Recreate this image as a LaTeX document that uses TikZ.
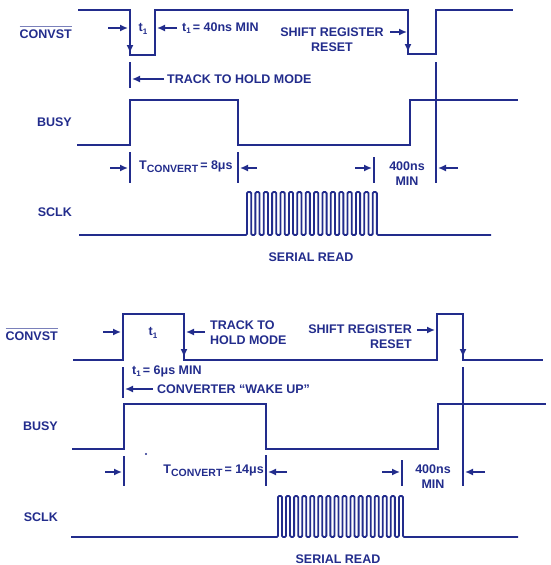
\documentclass[tikz,border=0pt]{standalone}
\usepackage{fontspec}
\setmainfont{Liberation Sans}
\usetikzlibrary{arrows.meta}
\definecolor{ink}{RGB}{34,44,140}
\tikzset{
  sig/.style={draw=ink, line width=1.8pt, line join=miter},
  guide/.style={draw=ink, line width=1.5pt},
  arr/.style={draw=ink, line width=1.5pt, -{Latex[length=8pt,width=7pt]}},
  lbl/.style={text=ink, inner sep=0pt, font=\fontsize{12.5}{15}\selectfont\bfseries},
  ovl/.style={draw=ink!60, line width=0.7pt}
}
\newcommand{\tconv}[1]{T\raisebox{-3pt}{\fontsize{10.5}{11}\selectfont CONVERT}\,= #1}
\begin{document}
\begin{tikzpicture}[x=1pt,y=-1pt]
\useasboundingbox (0,0) rectangle (551,565);

%%%%%%%%%%%%%%%% TOP DIAGRAM %%%%%%%%%%%%%%%%
\node[lbl, anchor=east] (cv1) at (72,34) {CONVST};
\draw[ovl] ([yshift=3.5pt]cv1.north west) -- ([yshift=3.5pt]cv1.north east);
\node[lbl, anchor=east] (bz1) at (72,122) {BUSY};
\node[lbl, anchor=east] (sc1) at (72,212) {SCLK};

% CONVST waveform
\draw[sig] (78,10) -- (130,10) -- (130,55) -- (155,55) -- (155,10) -- (408,10)
  -- (408,54) -- (436,54) -- (436,10) -- (513,10);
\draw[arr] (130,36) -- (130,53);
\draw[arr] (408,36) -- (408,52);
% t1
\node[lbl] (t1a) at (143,29) {t\raisebox{-2.5pt}{\fontsize{8}{9}\selectfont 1}};
\coordinate (t1aL) at (108,28); \coordinate (t1aLe) at (128,28);
\coordinate (t1aR) at (177,28); \coordinate (t1aRe) at (157,28);
\draw[arr] (t1aL) -- (t1aLe);
\draw[arr] (t1aR) -- (t1aRe);
\node[lbl, anchor=west] (t1av) at (182,28) {t\raisebox{-2.5pt}{\fontsize{8}{9}\selectfont 1}\,= 40ns MIN};
% shift register reset
\node[lbl, align=center] (sr1) at (332,40) {SHIFT REGISTER\\RESET};
\coordinate (sr1a) at (390,32); \coordinate (sr1b) at (407,32);
\draw[arr] (sr1a) -- (sr1b);
% track to hold
\draw[guide] (130,62) -- (130,88);
\node[lbl, anchor=west] (th1) at (167,79) {TRACK TO HOLD MODE};
\coordinate (th1a) at (132,79);
\draw[arr] (th1.west) ++(-3,0) -- (th1a);

% BUSY waveform
\draw[sig] (77,145) -- (130,145) -- (130,100) -- (238,100) -- (238,145) -- (410,145)
  -- (410,100) -- (518,100);
\draw[guide] (436,62) -- (436,183);
% TCONVERT
\draw[guide] (130,152) -- (130,183);
\draw[guide] (238,152) -- (238,183);
\coordinate (tc1a) at (110,168); \coordinate (tc1b) at (128,168);
\coordinate (tc1c) at (257,168); \coordinate (tc1d) at (240,168);
\draw[arr] (tc1a) -- (tc1b);
\draw[arr] (tc1c) -- (tc1d);
\node[lbl, anchor=west] (tc1) at (139,167) {\tconv{8μs}};
% 400ns
\draw[guide] (374,157) -- (374,183);
\coordinate (n1a) at (355,168); \coordinate (n1b) at (372,168);
\coordinate (n1c) at (458,168); \coordinate (n1d) at (438,168);
\draw[arr] (n1a) -- (n1b);
\draw[arr] (n1c) -- (n1d);
\node[lbl, align=center] (n1) at (407,174) {400ns\\MIN};

% SCLK waveform
\draw[sig, rounded corners=1.2pt] (79,235) -- (247,235)
  \foreach \k in {1,...,16} { -- ++(0,-43) -- ++(4.19,0) -- ++(0,43) -- ++(4.19,0) }
  -- (491,235);
\node[lbl] (rd1) at (311,257) {SERIAL READ};

%%%%%%%%%%%%%%%% BOTTOM DIAGRAM %%%%%%%%%%%%%%%%
\node[lbl, anchor=east] (cv2) at (58,336) {CONVST};
\draw[ovl] ([yshift=3.5pt]cv2.north west) -- ([yshift=3.5pt]cv2.north east);
\node[lbl, anchor=east] (bz2) at (58,426) {BUSY};
\node[lbl, anchor=east] (sc2) at (58,517) {SCLK};

% CONVST waveform
\draw[sig] (73,360) -- (123,360) -- (123,314) -- (184,314) -- (184,360) -- (437,360)
  -- (437,314) -- (463,314) -- (463,360) -- (543,360);
\draw[arr] (184,340) -- (184,357);
\draw[arr] (463,340) -- (463,357);
% t1
\node[lbl] (t1b) at (153,333) {t\raisebox{-2.5pt}{\fontsize{8}{9}\selectfont 1}};
\coordinate (t1bL) at (103,332); \coordinate (t1bLe) at (121,332);
\coordinate (t1bR) at (205,332); \coordinate (t1bRe) at (186,332);
\draw[arr] (t1bL) -- (t1bLe);
\draw[arr] (t1bR) -- (t1bRe);
\node[lbl, anchor=west, align=left] (th2) at (210,333) {TRACK TO\\HOLD MODE};
% shift register reset
\node[lbl, anchor=east, align=right] (sr2) at (412,337) {SHIFT REGISTER\\RESET};
\coordinate (sr2a) at (417,330); \coordinate (sr2b) at (435,330);
\draw[arr] (sr2a) -- (sr2b);
% wake up
\draw[guide] (123,367) -- (123,398);
\node[lbl, anchor=west] (t1bv) at (132,371) {t\raisebox{-2.5pt}{\fontsize{8}{9}\selectfont 1}\,= 6μs MIN};
\node[lbl, anchor=west] (wk) at (157,389) {CONVERTER “WAKE UP”};
\coordinate (wka) at (125,389);
\draw[arr] (wk.west) ++(-4,0) -- (wka);

% BUSY waveform
\draw[sig] (72,449) -- (124,449) -- (124,404) -- (266,404) -- (266,449) -- (438,449)
  -- (438,404) -- (546,404);
\draw[guide] (463,367) -- (463,486);
\fill[ink] (146,454) circle (1.1pt);
% TCONVERT
\draw[guide] (124,456) -- (124,486);
\draw[guide] (266,455) -- (266,486);
\coordinate (tc2a) at (105,472); \coordinate (tc2b) at (122,472);
\coordinate (tc2c) at (287,472); \coordinate (tc2d) at (268,472);
\draw[arr] (tc2a) -- (tc2b);
\draw[arr] (tc2c) -- (tc2d);
\node[lbl, anchor=east] (tc2) at (264,471) {\tconv{14μs}};
% 400ns
\draw[guide] (402,460) -- (402,486);
\coordinate (n2a) at (382,472); \coordinate (n2b) at (400,472);
\coordinate (n2c) at (485,472); \coordinate (n2d) at (465,472);
\draw[arr] (n2a) -- (n2b);
\draw[arr] (n2c) -- (n2d);
\node[lbl, align=center] (n2) at (433,477) {400ns\\MIN};

% SCLK waveform
\draw[sig, rounded corners=1.2pt] (71,537) -- (278,537)
  \foreach \k in {1,...,16} { -- ++(0,-41) -- ++(4.03,0) -- ++(0,41) -- ++(4.03,0) }
  -- (518,537);
\node[lbl] (rd2) at (338,559) {SERIAL READ};
\end{tikzpicture}
\end{document}
